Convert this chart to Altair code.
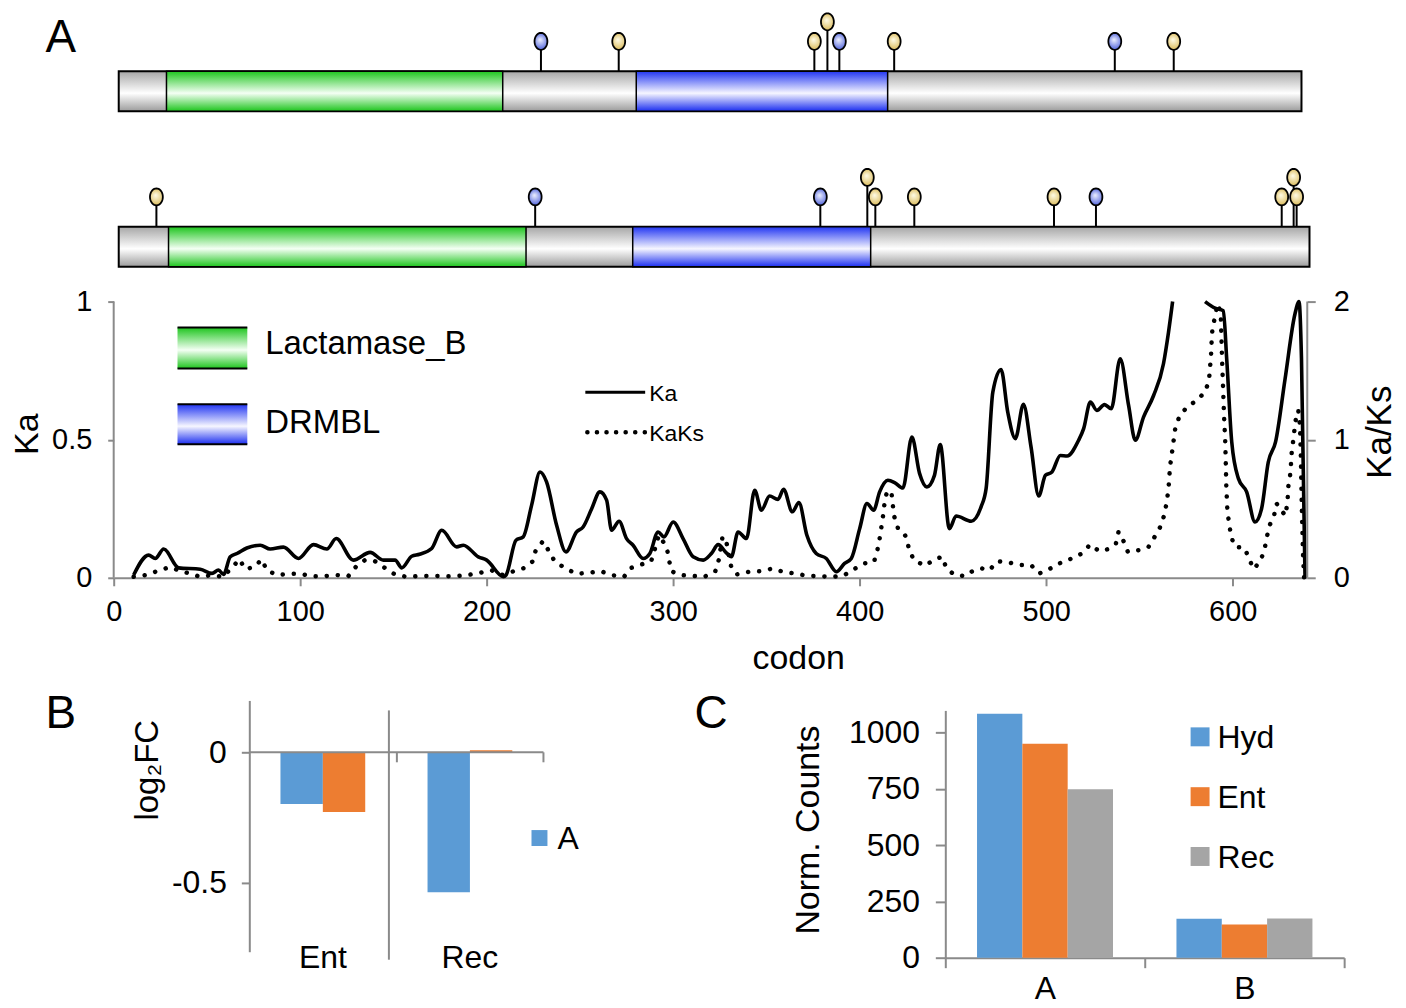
import math
import altair as alt
import pandas as pd

# ---------------- data ----------------
ka_seg1 = [(10.7, 0.01), (18.7, 0.082), (22.3, 0.07), (26.8, 0.104), (34.8, 0.036), (46.4, 0.031),
           (52.7, 0.016), (56.2, 0.028), (58.9, 0.012), (62.5, 0.076), (66.1, 0.088), (71.4, 0.108),
           (78.6, 0.118), (83.9, 0.104), (91.0, 0.111), (99.1, 0.07), (107.1, 0.12), (114.3, 0.104),
           (119.3, 0.142), (128.5, 0.064), (137.5, 0.092), (144.6, 0.064), (150.9, 0.064), (154.5, 0.036),
           (159.8, 0.078), (164.0, 0.085), (170.5, 0.106), (175.9, 0.172), (183.9, 0.112), (187.5, 0.118),
           (195.5, 0.076), (200.0, 0.064), (208.9, 0.004), (210.4, 0.01), (215.7, 0.136), (219.6, 0.148),
           (224.1, 0.263), (228.6, 0.383), (232.1, 0.347), (237.5, 0.19), (242.5, 0.094), (248.2, 0.166),
           (251.7, 0.184), (256.3, 0.25), (260.7, 0.311), (264.3, 0.281), (267.0, 0.172), (271.0, 0.205),
           (275.0, 0.142), (278.5, 0.118), (283.9, 0.07), (287.5, 0.088), (291.9, 0.166), (295.0, 0.148),
           (300.0, 0.202), (305.3, 0.142), (310.7, 0.076), (316.1, 0.064), (320.5, 0.088), (324.1, 0.12),
           (328.5, 0.09), (331.2, 0.076), (334.8, 0.166), (339.3, 0.142), (343.7, 0.317), (347.3, 0.245),
           (351.7, 0.296), (356.2, 0.284), (359.2, 0.32), (363.9, 0.239), (367.4, 0.272), (371.7, 0.154),
           (376.7, 0.088), (382.1, 0.07), (387.5, 0.022), (391.9, 0.052), (395.5, 0.07), (400.0, 0.178),
           (403.9, 0.269), (407.5, 0.245), (410.7, 0.311), (415.1, 0.353), (418.7, 0.345), (423.2, 0.325),
           (428.0, 0.51), (432.1, 0.378), (436.0, 0.329), (440.1, 0.371), (443.2, 0.482), (448.1, 0.178),
           (451.7, 0.224), (459.8, 0.205), (465.1, 0.257), (467.8, 0.323), (471.4, 0.672), (475.8, 0.754),
           (479.4, 0.6), (483.5, 0.504), (487.8, 0.628), (491.9, 0.473), (496.0, 0.296), (499.6, 0.371),
           (503.1, 0.383), (507.6, 0.443), (511.2, 0.441), (517.4, 0.498), (520.1, 0.54), (523.7, 0.636),
           (527.2, 0.606), (531.3, 0.627), (534.9, 0.612), (539.7, 0.793), (544.2, 0.624), (547.8, 0.498),
           (552.2, 0.582), (557.6, 0.66), (562.9, 0.775), (565.6, 0.889), (567.8, 1.0)]
ka_seg2 = [(585.2, 1.0), (590.6, 0.976), (595.0, 0.967), (596.8, 0.793), (599.5, 0.492), (603.1, 0.359),
           (607.5, 0.311), (612.0, 0.202), (615.5, 0.25), (619.1, 0.419), (623.0, 0.492), (628.1, 0.72),
           (633.4, 0.955), (635.6, 1.0), (636.9, 0.793), (638.8, 0.0)]
kaks_pts = [(10.7, 0.007), (17.5, 0.02), (23.6, 0.05), (30.0, 0.077), (35.7, 0.05), (41.0, 0.03), (46.4, 0.007),
            (52.7, 0.02), (58.5, 0.007), (63.4, 0.072), (67.4, 0.135), (70.5, 0.063), (75.3, 0.077), (79.4, 0.133),
            (82.1, 0.055), (87.5, 0.02), (93.7, 0.029), (100.0, 0.029), (106.2, 0.012), (112.8, 0.012),
            (119.6, 0.02), (125.8, 0.012), (129.9, 0.08), (134.7, 0.128), (140.1, 0.12), (145.4, 0.072),
            (150.8, 0.024), (157.0, 0.007), (163.5, 0.012), (170.4, 0.014), (176.6, 0.012), (183.8, 0.012),
            (190.0, 0.02), (196.3, 0.036), (202.5, 0.055), (208.8, 0.02), (214.5, 0.048), (220.4, 0.072),
            (224.8, 0.12), (226.3, 0.2), (230.2, 0.265), (233.4, 0.193), (236.4, 0.12), (241.8, 0.072),
            (248.1, 0.029), (254.6, 0.036), (261.1, 0.048), (266.8, 0.02), (273.6, 0.007), (277.5, 0.072),
            (282.8, 0.096), (288.2, 0.12), (290.0, 0.2), (292.3, 0.308), (296.5, 0.224), (297.8, 0.128),
            (299.0, 0.048), (303.7, 0.02), (310.1, 0.014), (316.7, 0.007), (322.6, 0.048), (324.4, 0.128),
            (326.5, 0.3), (328.5, 0.26), (331.0, 0.087), (334.0, 0.024), (340.4, 0.043), (347.0, 0.048),
            (353.3, 0.067), (359.0, 0.043), (365.4, 0.031), (372.0, 0.014), (378.3, 0.012), (385.0, 0.007),
            (391.1, 0.014), (397.0, 0.063), (402.3, 0.104), (407.7, 0.116), (409.5, 0.2), (410.7, 0.284),
            (411.8, 0.381), (412.7, 0.465), (413.4, 0.549), (414.8, 0.634), (417.2, 0.598), (418.4, 0.45),
            (420.5, 0.36), (422.8, 0.34), (425.2, 0.289), (426.4, 0.207), (429.1, 0.128), (435.0, 0.087),
            (440.4, 0.135), (444.3, 0.152), (446.4, 0.072), (450.5, 0.024), (456.4, 0.012), (461.2, 0.055),
            (465.7, 0.067), (469.6, 0.055), (473.7, 0.12), (479.9, 0.111), (485.8, 0.092), (491.9, 0.092),
            (496.3, 0.031), (502.2, 0.067), (508.1, 0.111), (513.8, 0.14), (519.2, 0.176), (523.6, 0.241),
            (528.5, 0.193), (533.1, 0.207), (537.4, 0.248), (538.8, 0.333), (541.5, 0.265), (543.8, 0.188),
            (549.5, 0.2), (554.9, 0.224), (558.5, 0.304), (561.7, 0.381), (563.5, 0.465), (564.7, 0.554),
            (565.6, 0.646), (566.0, 0.73), (566.5, 0.814), (567.4, 0.899), (569.2, 1.08), (571.3, 1.164),
            (575.4, 1.236), (580.7, 1.284), (585.2, 1.345), (587.3, 1.429), (587.8, 1.513), (588.4, 1.61),
            (588.7, 1.706), (589.1, 1.79), (590.6, 1.899), (592.0, 1.983), (593.6, 1.92), (594.0, 1.73),
            (594.4, 1.55), (594.9, 1.357), (595.4, 1.164), (596.0, 0.995), (596.3, 0.839), (596.6, 0.658),
            (597.2, 0.477), (599.2, 0.296), (601.3, 0.224), (606.3, 0.217), (608.8, 0.14), (611.1, 0.063),
            (614.7, 0.116), (617.0, 0.2), (618.2, 0.284), (619.5, 0.369), (622.3, 0.458), (623.6, 0.537),
            (626.5, 0.48), (628.4, 0.45), (629.5, 0.573), (629.8, 0.658), (630.8, 0.742), (631.3, 0.827),
            (631.7, 0.916), (632.6, 1.007), (633.4, 1.104), (634.3, 1.188), (635.2, 1.212), (636.1, 1.104),
            (636.6, 0.863), (636.9, 0.622), (637.3, 0.381), (637.8, 0.14), (638.3, 0.0)]

protein_id = ["P1", "P2"]
protein_start = [2.7, 2.7]
protein_end = [636.9, 641.2]

domain_protein = ["P1", "P1", "P2", "P2"]
domain_name = ["Lactamase_B", "DRMBL", "Lactamase_B", "DRMBL"]
domain_start = [28.3, 280.2, 29.4, 278.3]
domain_end = [208.6, 415.0, 221.1, 405.9]

site_protein = ["P1"] * 8 + ["P2"] * 11
site_codon = [229.1, 270.8, 375.7, 382.7, 389.1, 418.5, 536.8, 568.4,
              22.9, 226.0, 378.9, 404.1, 408.4, 429.3, 504.2, 526.7, 626.3, 632.7, 634.3]
site_kind = ["b", "y", "y", "y", "b", "y", "b", "y",
             "y", "b", "b", "y", "y", "y", "y", "b", "y", "y", "y"]
site_level = [1, 1, 1, 2, 1, 1, 1, 1,
              1, 1, 1, 2, 1, 1, 1, 1, 1, 2, 1]

fc_cond = ["Ent", "Ent", "Rec", "Rec"]
fc_gene = ["A", "B", "A", "B"]
fc_value = [-0.198, -0.228, -0.535, 0.008]

nc_gene = ["A", "A", "A", "B", "B", "B"]
nc_cond = ["Hyd", "Ent", "Rec", "Hyd", "Ent", "Rec"]
nc_value = [1084, 951, 749, 173, 148, 174]

# ---------------- style / layout ----------------
FONT = "Liberation Sans"
AX = "#8a8a8a"
C_BLUE, C_ORANGE, C_GRAY = "#5b9bd5", "#ed7d31", "#a5a5a5"
GENE_COL = {"A": C_BLUE, "B": C_ORANGE}
COND_COL = {"Hyd": C_BLUE, "Ent": C_ORANGE, "Rec": C_GRAY}

W_TOP, H_TOP, PX_PER_KA = 1197, 568, 277.0
KA_MAX = H_TOP / PX_PER_KA
TRACK_UNIT = 40.0
TRACK_MAX = H_TOP / TRACK_UNIT
TRACK_BASE = {"P1": 11.7, "P2": 7.8}
LEVEL_H = {1: 0.75, 2: 1.24}

ONE = alt.Data(values=[{"k": 0}])


def lin(stops):
    return alt.LinearGradient(gradient="linear",
                              stops=[alt.GradientStop(color=c, offset=o) for o, c in stops],
                              x1=0, x2=0, y1=0, y2=1)


def rad(stops):
    return alt.RadialGradient(gradient="radial",
                              stops=[alt.GradientStop(color=c, offset=o) for o, c in stops],
                              x1=0.45, y1=0.4, x2=0.5, y2=0.5, r1=0, r2=0.55)


GRAY_GRAD = lin([(0, "#a6a6a6"), (0.55, "#ffffff"), (1, "#9c9c9c")])
GREEN_GRAD = lin([(0, "#1ec51e"), (0.55, "#f4fff4"), (1, "#1ec51e")])
BLUE_GRAD = lin([(0, "#2236f2"), (0.55, "#f6f6ff"), (1, "#1c2ff0")])
HEAD_B = rad([(0, "#eef1ff"), (1, "#4458d8")])
HEAD_Y = rad([(0, "#fffce8"), (1, "#d8b650")])

ELLIPSE = "M" + " L".join(
    f"{0.76 * math.cos(2 * math.pi * k / 36):.3f},{math.sin(2 * math.pi * k / 36):.3f}" for k in range(36)
) + " Z"


def txt(s, x, y, size, angle=0, align="center", baseline="middle"):
    return alt.Chart(ONE).mark_text(text=s, fontSize=size, angle=angle, align=align,
                                    baseline=baseline, color="black", font=FONT).encode(
        x=alt.value(x), y=alt.value(y))


def prule(x, x2, y, y2, color=AX, width=2, **kw):
    return alt.Chart(ONE).mark_rule(color=color, strokeWidth=width, **kw).encode(
        x=alt.value(x), x2=alt.value(x2), y=alt.value(y), y2=alt.value(y2))


def prect(x, x2, y, y2, fill):
    return alt.Chart(ONE).mark_rect(fill=fill).encode(
        x=alt.value(x), x2=alt.value(x2), y=alt.value(y), y2=alt.value(y2))


# ---------------- panel A ----------------
ka_df = pd.DataFrame(
    [{"codon": c, "ka": v, "seg": 1} for c, v in ka_seg1] +
    [{"codon": c, "ka": v, "seg": 2} for c, v in ka_seg2])
kaks_df = pd.DataFrame([{"codon": c, "kaks": v} for c, v in kaks_pts])

X_SCALE = alt.Scale(domain=[0, 640], nice=False, zero=False)
X_AXIS = alt.Axis(values=list(range(0, 601, 100)), format="d", title=None, labelFontSize=29,
                  tickSize=8, tickWidth=2, tickColor=AX, domainColor=AX, domainWidth=2,
                  labelPadding=12, labelFlush=False, labelColor="black", grid=False, labelFont=FONT)


def xq(field):
    return alt.X(field, type="quantitative", scale=X_SCALE, axis=X_AXIS)


ka_line = alt.Chart(ka_df).mark_line(color="black", strokeWidth=3.6, interpolate="monotone").encode(
    x=xq("codon"),
    y=alt.Y("ka:Q", scale=alt.Scale(domain=[0, KA_MAX], nice=False, zero=False),
            axis=alt.Axis(values=[0, 0.5, 1], format="~g", title=None, domain=False, tickSize=6,
                          tickWidth=2, tickColor=AX, labelFontSize=29, labelPadding=16,
                          labelColor="black", grid=False)),
    detail="seg:N",
)

kaks_line = alt.Chart(kaks_df).mark_line(color="black", strokeWidth=4.5, strokeDash=[0.1, 11],
                                         strokeCap="round").encode(
    x=xq("codon"),
    y=alt.Y("kaks:Q", scale=alt.Scale(domain=[0, 2 * KA_MAX], nice=False, zero=False),
            axis=alt.Axis(orient="right", values=[0, 1, 2], format="d", title=None, domain=False,
                          tickSize=8, tickWidth=2, tickColor=AX, labelFontSize=29, labelPadding=18,
                          labelColor="black", grid=False)),
)

prot_df = pd.DataFrame({"protein": protein_id, "start": protein_start, "end": protein_end})
prot_df["y0"] = prot_df["protein"].map(TRACK_BASE)
prot_df["y1"] = prot_df["y0"] + 1

dom_df = pd.DataFrame({"protein": domain_protein, "name": domain_name,
                       "start": domain_start, "end": domain_end})
dom_df["y0"] = dom_df["protein"].map(TRACK_BASE)
dom_df["y1"] = dom_df["y0"] + 1

site_df = pd.DataFrame({"protein": site_protein, "codon": site_codon,
                        "kind": site_kind, "level": site_level})
site_df["ytop"] = site_df["protein"].map(TRACK_BASE) + 1
site_df["yhead"] = site_df["ytop"] + site_df["level"].map(LEVEL_H)

TRACK_SCALE = alt.Scale(domain=[0, TRACK_MAX], nice=False, zero=False)


def dom_rect(df, fill, sw):
    return alt.Chart(df).mark_rect(fill=fill, stroke="black", strokeWidth=sw).encode(
        x=xq("start"), x2="end:Q",
        y=alt.Y("y0:Q", scale=TRACK_SCALE, axis=None), y2="y1:Q")


gray_bars = dom_rect(prot_df, GRAY_GRAD, 2)
green_bars = dom_rect(dom_df[dom_df["name"] == "Lactamase_B"], GREEN_GRAD, 1.5)
blue_bars = dom_rect(dom_df[dom_df["name"] == "DRMBL"], BLUE_GRAD, 1.5)
stems = alt.Chart(site_df).mark_rule(color="black", strokeWidth=2).encode(
    x=xq("codon"),
    y=alt.Y("ytop:Q", scale=TRACK_SCALE, axis=None), y2="yhead:Q")


def heads(kind, grad):
    return alt.Chart(site_df[site_df["kind"] == kind]).mark_point(
        shape=ELLIPSE, size=289, filled=True, fill=grad, stroke="black", strokeWidth=1.8, opacity=1
    ).encode(x=xq("codon"),
             y=alt.Y("yhead:Q", scale=TRACK_SCALE, axis=None))


domain_group = alt.layer(gray_bars, green_bars, blue_bars, stems, heads("y", HEAD_Y), heads("b", HEAD_B))

top_decor = [
    prule(-106, -106, 20, 30, color="white", width=1, strokeOpacity=0),
    prule(0, 0, H_TOP - PX_PER_KA, H_TOP),
    prule(W_TOP, W_TOP, H_TOP - PX_PER_KA, H_TOP),
    txt("A", -53, 27, 46),
    txt("Ka", -86, 424, 34, angle=270),
    txt("Ka/Ks", 1270, 422, 35, angle=270),
    txt("codon", 687, 649, 34),
    prect(64, 134, 317, 358, GREEN_GRAD),
    prule(64, 134, 317, 317, color="black", width=2),
    prule(64, 134, 358, 358, color="black", width=2),
    prect(64, 134, 394, 434, BLUE_GRAD),
    prule(64, 134, 394, 394, color="black", width=2),
    prule(64, 134, 434, 434, color="black", width=2),
    txt("Lactamase_B", 152, 334, 33, align="left"),
    txt("DRMBL", 152, 413, 33, align="left"),
    prule(473, 533, 382, 382, color="black", width=3),
    txt("Ka", 537, 384, 23, align="left"),
    prule(475, 533, 422, 422, color="black", width=4.5, strokeDash=[0.1, 9.5], strokeCap="round"),
    txt("KaKs", 537, 424, 23, align="left"),
]

top = alt.layer(ka_line, kaks_line, domain_group, *top_decor).resolve_scale(
    y="independent").properties(width=W_TOP, height=H_TOP)

# ---------------- panels B and C ----------------
H_BOT, W_BOT = 258, 1235
B_MIN, B_MAX = -0.763, 0.1985
B_RANGE = [252, 0]
B_XR = [136, 431]
C_XR = [834, 1234]


def b_px(v):
    return (B_MAX - v) / (B_MAX - B_MIN) * (B_RANGE[0] - B_RANGE[1]) + B_RANGE[1]


fc_df = pd.DataFrame({"cond": fc_cond, "gene": fc_gene, "value": fc_value})
fc_df["col"] = fc_df["gene"].map(GENE_COL)
nc_df = pd.DataFrame({"gene": nc_gene, "cond": nc_cond, "value": nc_value})
nc_df["col"] = nc_df["cond"].map(COND_COL)

B_X = alt.Scale(range=B_XR, paddingInner=0, paddingOuter=0)
b_bars = alt.Chart(fc_df).mark_bar().encode(
    x=alt.X("cond:N", sort=["Ent", "Rec"], scale=B_X, axis=None),
    xOffset=alt.XOffset("gene:N", sort=["A", "B"], scale=alt.Scale(paddingInner=0, paddingOuter=0.735)),
    y=alt.Y("value:Q", scale=alt.Scale(domain=[B_MIN, B_MAX], range=B_RANGE, nice=False, zero=False),
            axis=alt.Axis(orient="left", offset=-B_XR[0], values=[0, -0.5], title=None,
                          labelExpr="datum.value < 0 ? '-' + format(-datum.value, '.1f') : '0'",
                          tickSize=8, tickWidth=2, tickColor=AX, domainColor=AX, domainWidth=2,
                          labelFontSize=32, labelPadding=15, labelColor="black", grid=False)),
    y2=alt.datum(0),
    color=alt.Color("col:N", scale=None),
)
b_cat = alt.Chart(pd.DataFrame({"cond": ["Ent", "Rec"]})).mark_text(
    fontSize=32, baseline="middle", color="black", font=FONT).encode(
    x=alt.X("cond:N", sort=["Ent", "Rec"], scale=B_X, axis=None),
    y=alt.value(258), text="cond:N")
b_group = alt.layer(b_bars, b_cat)

c_bars = alt.Chart(nc_df).mark_bar().encode(
    x=alt.X("gene:N", sort=["A", "B"], scale=alt.Scale(range=C_XR, paddingInner=0, paddingOuter=0),
            axis=alt.Axis(orient="bottom", tickBand="extent", title=None, labelAngle=0, labelFontSize=32,
                          tickSize=10, tickWidth=2, tickColor=AX, domainColor=AX, domainWidth=2,
                          labelPadding=6, labelColor="black", grid=False)),
    xOffset=alt.XOffset("cond:N", sort=["Hyd", "Ent", "Rec"],
                        scale=alt.Scale(paddingInner=0, paddingOuter=0.7)),
    y=alt.Y("value:Q", scale=alt.Scale(domain=[0, 1099], range=[H_BOT, 10], nice=False, zero=False),
            axis=alt.Axis(orient="left", offset=-C_XR[0], values=[0, 250, 500, 750, 1000], format="d",
                          title=None, tickSize=10, tickWidth=2, tickColor=AX, domainColor=AX,
                          domainWidth=2, labelFontSize=32, labelPadding=16, labelColor="black",
                          grid=False)),
    y2=alt.datum(0),
    color=alt.Color("col:N", scale=None),
)

bot_decor = [
    prule(B_XR[0], B_XR[1], b_px(0), b_px(0)),
    prule(284, 284, b_px(0), b_px(0) + 10),
    prule(B_XR[1], B_XR[1], b_px(0), b_px(0) + 10),
    prule(276, 276, 10, 260),
    txt("B", -53, 14, 46),
    txt("C", 599, 14, 46),
    txt("log₂FC", 34, 70, 33, angle=270),
    txt("Norm. Counts", 697, 130, 34, angle=270),
    prect(419, 435, 130, 146, C_BLUE),
    txt("A", 445, 139, 32, align="left"),
]
for i, cnd in enumerate(["Hyd", "Ent", "Rec"]):
    bot_decor.append(prect(1080, 1099, 27 + 60 * i, 46 + 60 * i, COND_COL[cnd]))
    bot_decor.append(txt(cnd, 1107, 38 + 60 * i, 32, align="left"))

bottom = alt.layer(b_group, c_bars, *bot_decor).resolve_scale(
    x="independent", y="independent", xOffset="independent").resolve_axis(
    x="independent", y="independent").properties(width=W_BOT, height=H_BOT)

chart = alt.vconcat(top, bottom, spacing=16).properties(padding=0).configure(
    font=FONT).configure_view(stroke=None).configure_axis(labelFont=FONT)

chart.save("out.html", embed_options={"renderer": "svg", "actions": False})
